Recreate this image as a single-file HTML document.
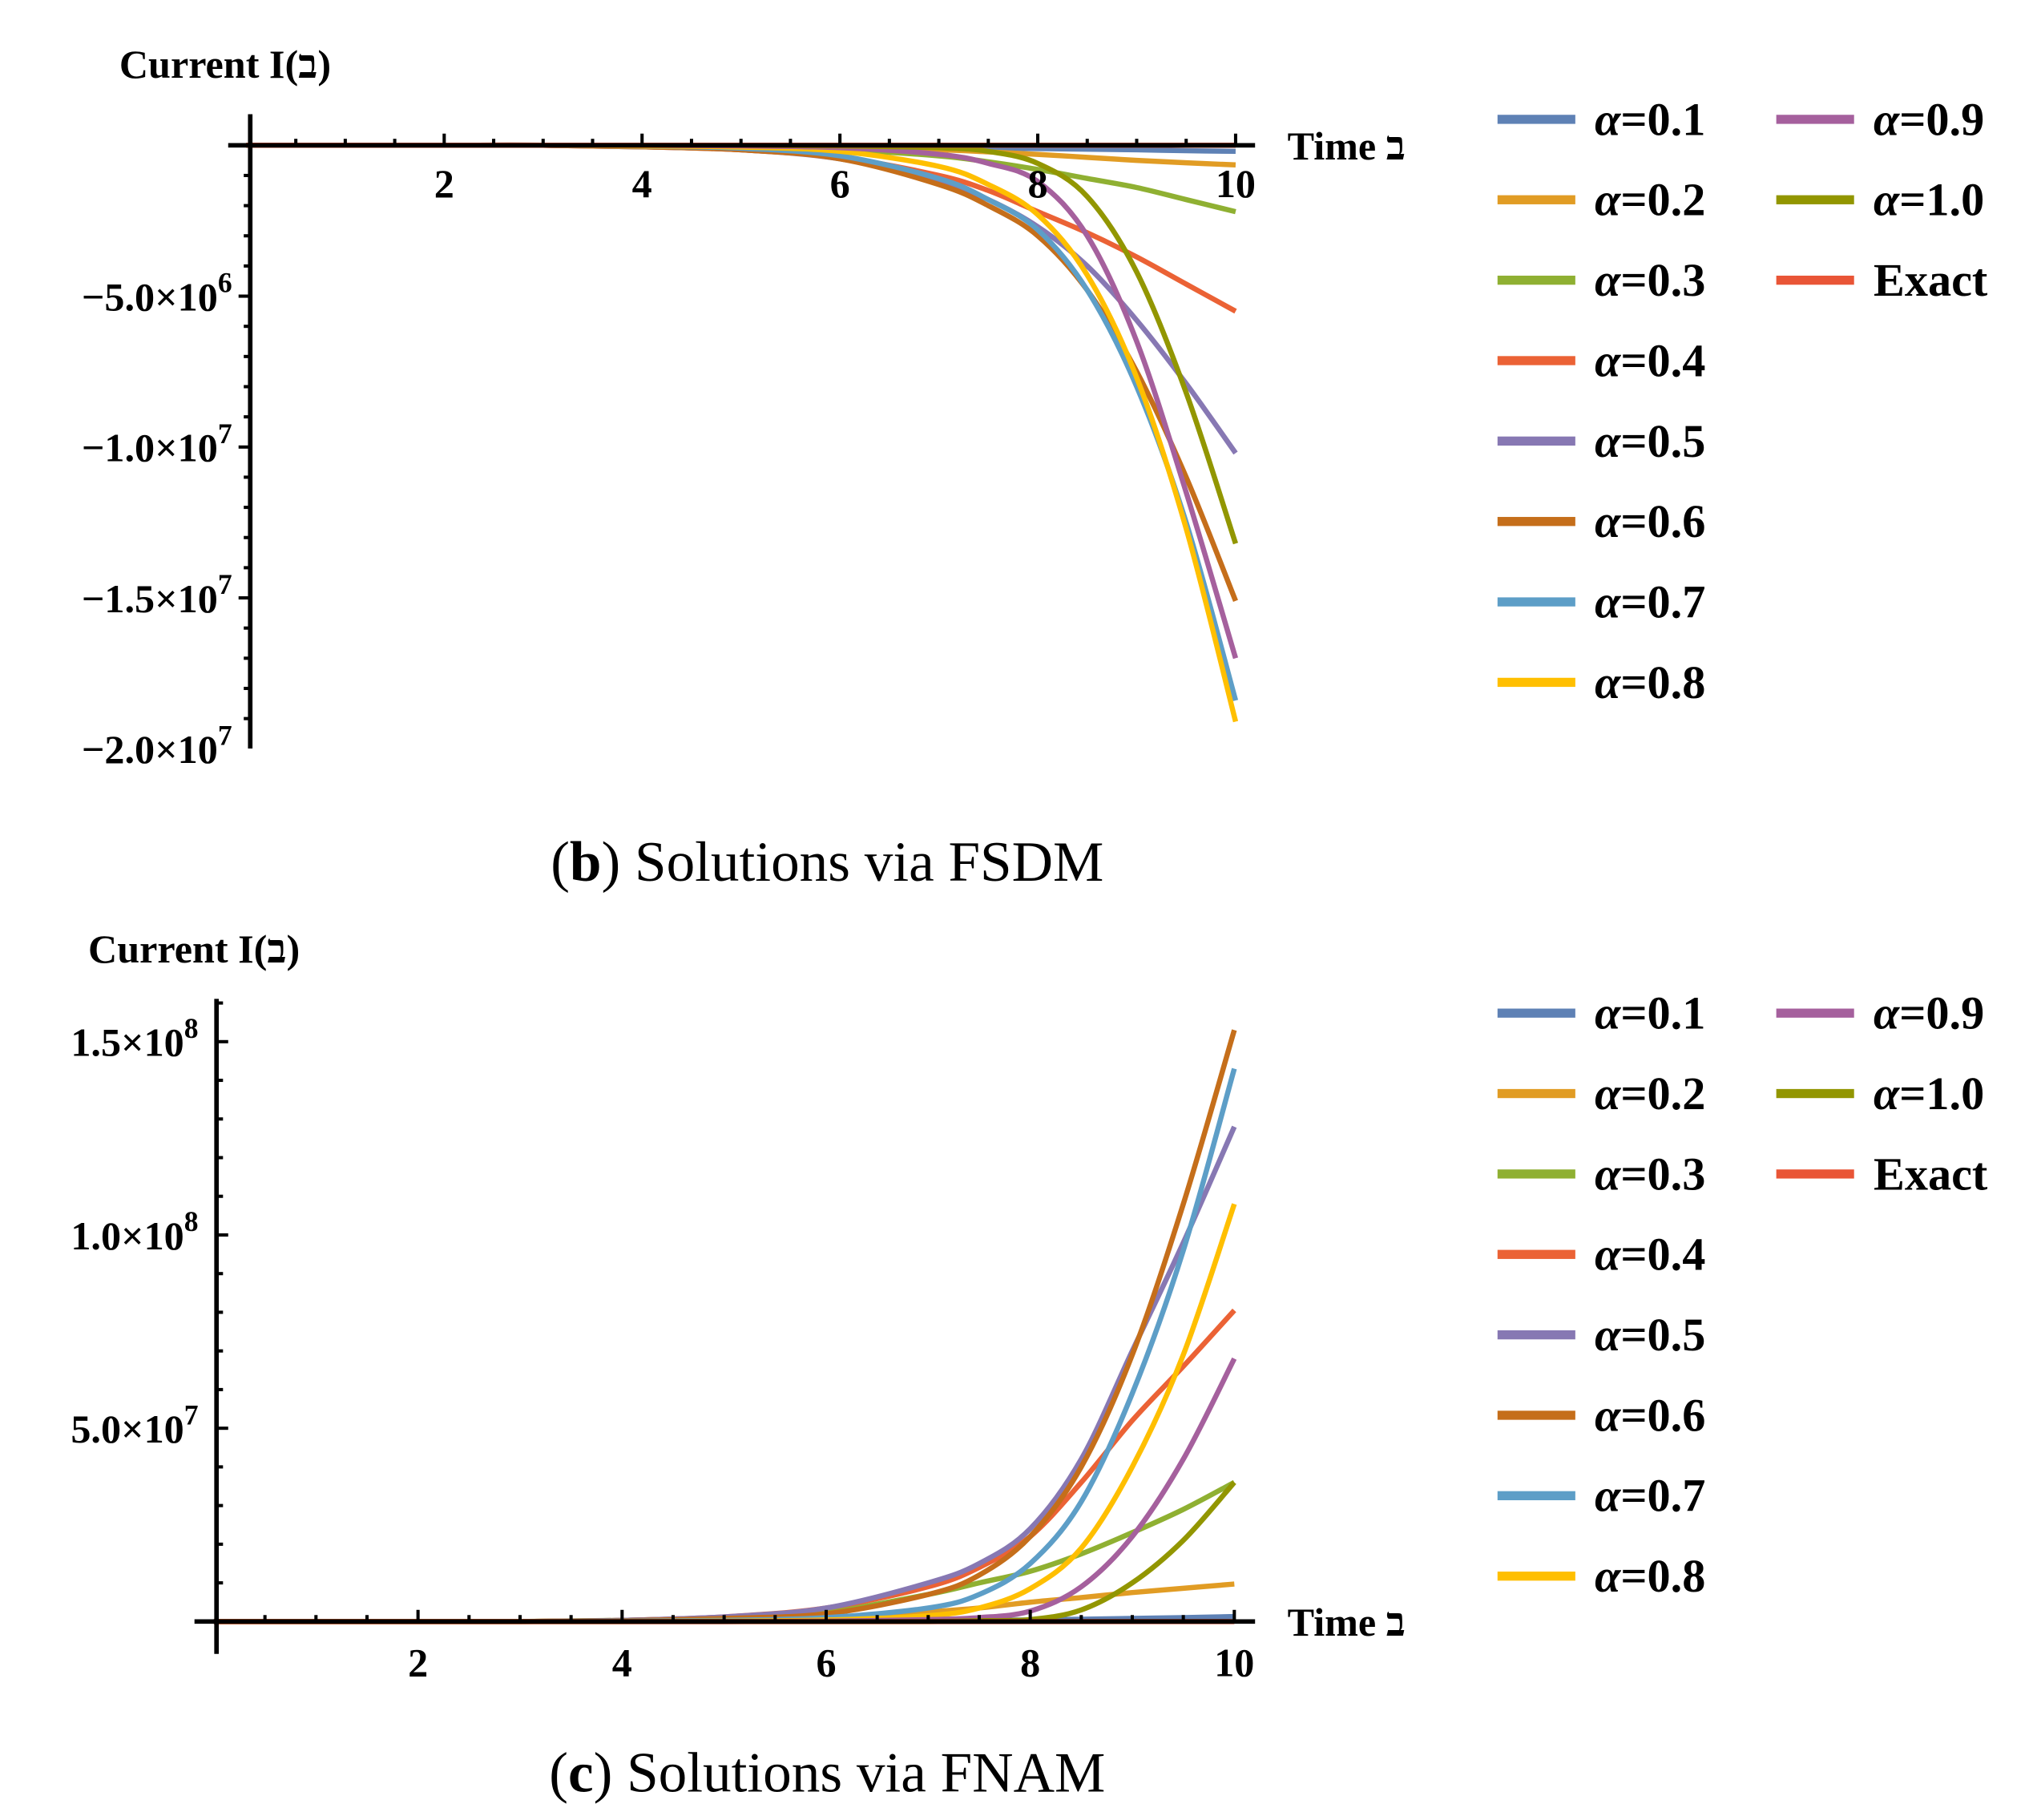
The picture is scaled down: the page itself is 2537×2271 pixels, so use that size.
<!DOCTYPE html>
<html><head><meta charset="utf-8"><style>
html,body{margin:0;padding:0;background:#fff}
svg{display:block}
.tk{font-family:"Liberation Serif",serif;font-weight:bold;font-size:31px;fill:#000}
.lg{font-family:"Liberation Serif",serif;font-weight:bold;font-size:36px;fill:#000}
.cap{font-family:"Liberation Serif",serif;font-size:44px;fill:#000}
</style></head><body>
<svg id="fig" width="2537" height="2271" viewBox="0 0 1568 1403" preserveAspectRatio="none" xmlns="http://www.w3.org/2000/svg">
<g id="top"></g>
<g id="bot"></g>
<text class="cap" x="638" y="679" text-anchor="middle">(<tspan font-weight="bold">b</tspan>) Solutions via FSDM</text>
<text class="cap" x="638" y="1381" text-anchor="middle">(<tspan font-weight="bold">c</tspan>) Solutions via FNAM</text>
</svg>
<script>
const times=[0,1,2,3,4,5,6,7,7.5,8,8.5,9,9.5,10];
const seriesNames=["α=0.1","α=0.2","α=0.3","α=0.4","α=0.5","α=0.6","α=0.7","α=0.8","α=0.9","α=1.0","Exact"];
const colors=["#5E81B5","#E19C24","#8FB032","#EB6235","#8778B3","#C56E1A","#5D9EC7","#FFBF00","#A5609D","#929600","#E95536"];
// top chart values, units of 1e6
const fsdm01=[0,0,0,0,0,-0.02,-0.04,-0.07,-0.09,-0.11,-0.13,-0.15,-0.18,-0.2];
const fsdm02=[0,0,0,0,-0.01,-0.03,-0.07,-0.15,-0.22,-0.3,-0.4,-0.5,-0.58,-0.65];
const fsdm03=[0,0,0,0,-0.02,-0.06,-0.15,-0.35,-0.55,-0.8,-1.1,-1.4,-1.8,-2.2];
const fsdm04=[0,0,0,0,-0.05,-0.15,-0.4,-1.0,-1.5,-2.2,-2.9,-3.7,-4.6,-5.5];
const fsdm05=[0,0,0,0,-0.05,-0.15,-0.45,-1.2,-1.8,-2.7,-4.0,-5.8,-7.9,-10.2];
const fsdm06=[0,0,0,0,-0.05,-0.15,-0.45,-1.3,-2.0,-3.0,-4.8,-7.5,-11,-15.1];
const fsdm07=[0,0,0,0,-0.03,-0.1,-0.35,-1.1,-1.8,-2.8,-4.8,-8.0,-12.5,-18.4];
const fsdm08=[0,0,0,0,-0.02,-0.06,-0.2,-0.7,-1.3,-2.3,-4.3,-7.7,-12.7,-19.1];
const fsdm09=[0,0,0,0,0,-0.02,-0.08,-0.3,-0.6,-1.2,-3.0,-6.5,-11.5,-17.0];
const fsdm10=[0,0,0,0,0,0,-0.02,-0.08,-0.2,-0.6,-1.7,-4.2,-8.2,-13.2];
const fsdmEx=[0,0,0,0,0,0,0,0,0,0,0,0,0,0];
// bottom chart values, units of 1e7
const fnam01=[0,0,0,0,0,0,0.01,0.02,0.03,0.04,0.06,0.08,0.1,0.13];
const fnam02=[0,0,0,0,0.02,0.04,0.1,0.25,0.35,0.5,0.62,0.75,0.86,0.97];
const fnam03=[0,0,0,0,0.03,0.1,0.25,0.7,1.0,1.3,1.75,2.3,2.9,3.6];
const fnam04=[0,0,0,0,0.03,0.12,0.35,0.9,1.4,2.2,3.6,5.2,6.6,8.05];
const fnam05=[0,0,0,0,0.03,0.12,0.35,1.0,1.5,2.4,4.2,7.0,9.8,12.8];
const fnam06=[0,0,0,0,0.02,0.08,0.2,0.7,1.2,2.2,4.0,6.9,10.8,15.3];
const fnam07=[0,0,0,0,0.01,0.03,0.1,0.35,0.7,1.5,3.1,5.9,9.6,14.3];
const fnam08=[0,0,0,0,0,0.01,0.04,0.15,0.35,0.85,1.9,4.0,6.9,10.8];
const fnam09=[0,0,0,0,0,0,0.01,0.05,0.1,0.27,0.9,2.2,4.2,6.8];
const fnam10=[0,0,0,0,0,0,0,0,0.02,0.05,0.3,1.0,2.1,3.6];
const fnamEx=[0,0,0,0,0,0,0,0,0,0,0,0,0,0];
const topYTicks=[-5,-10,-15,-20];
const topYLabels=["−5.0×10","−1.0×10","−1.5×10","−2.0×10"];
const topYExp=["6","7","7","7"];
const botYTicks=[5,10,15];
const botYLabels=["5.0×10","1.0×10","1.5×10"];
const botYExp=["7","8","8"];
const xTicks=[2,4,6,8,10];

const NS="http://www.w3.org/2000/svg";
function mk(p,tag,at){const e=document.createElementNS(NS,tag);for(const k in at)e.setAttribute(k,at[k]);p.appendChild(e);return e;}
function pathD(pts){let d="M"+pts[0][0]+","+pts[0][1];for(let i=0;i<pts.length-1;i++){const p0=pts[Math.max(0,i-1)],p1=pts[i],p2=pts[i+1],p3=pts[Math.min(pts.length-1,i+2)];
d+=" C"+(p1[0]+(p2[0]-p0[0])/6)+","+(p1[1]+(p2[1]-p0[1])/6)+" "+(p2[0]-(p3[0]-p1[0])/6)+","+(p2[1]-(p3[1]-p1[1])/6)+" "+p2[0]+","+p2[1];}return d;}

function chart(g,cfg){
  const X=t=>cfg.x0+t*cfg.xs, Y=v=>cfg.y0-v*cfg.ys;
  cfg.series.forEach((s,i)=>{
    const p=mk(g,"path",{d:pathD(times.map((t,j)=>[X(t),Y(s[j])])),fill:"none",stroke:colors[i],"stroke-width":4});
    
    
  });
  const xa=mk(g,"line",{x1:cfg.xaL,x2:cfg.xaR,y1:cfg.y0,y2:cfg.y0,stroke:"#000","stroke-width":3.5});
  
  
  const ya=mk(g,"line",{x1:cfg.yax,x2:cfg.yax,y1:cfg.yaT,y2:cfg.yaB,stroke:"#000","stroke-width":3.5});
  
  
  for(let t=0.5;t<=10.01;t+=0.5){const major=Math.abs(t%2)<0.01;mk(g,"line",{x1:X(t),x2:X(t),y1:cfg.y0,y2:cfg.y0-(major?9:5),stroke:"#000","stroke-width":2.5});}
  xTicks.forEach(t=>{const e=mk(g,"text",{x:X(t),y:cfg.y0+cfg.xlabOff,"text-anchor":"middle",class:"tk"});e.textContent=t;
    
    });
  for(let v=cfg.minorFrom;v<=cfg.minorTo;v+=cfg.minorStep){if(Math.abs(v)<1e-9)continue;const y=Y(v);if(y<cfg.yaT||y>cfg.yaB)continue;
    const major=Math.abs(v%cfg.majorStep)<1e-6;mk(g,"line",{x1:cfg.yax,x2:cfg.yax+cfg.tdir*(major?9:5),y1:y,y2:y,stroke:"#000","stroke-width":2.5});}
  cfg.yt.forEach((v,i)=>{const e=mk(g,"text",{x:cfg.yax-14,y:Y(v)+11,"text-anchor":"end",class:"tk"});
    
    
    const a=mk(e,"tspan",{});a.textContent=cfg.yl[i];
    const s=mk(e,"tspan",{dy:"-14","font-size":"22"});s.textContent=cfg.ye[i];});
  const xt=mk(g,"text",{x:993,y:cfg.y0+11,class:"tk","font-size":"33"});xt.textContent="Time ב";
  
  
  const yt=mk(g,"text",{x:cfg.ytx,y:cfg.yty,class:"tk","font-size":"31"});yt.textContent="Current I(ב)";
  
  
  seriesNames.forEach((n,i)=>{const col=i<8?0:1,row=i<8?i:i-8;const lx=col?1370:1155,ly=cfg.legY+row*62;
    const lg=mk(g,"g",{});
    
    
    mk(lg,"rect",{x:lx,y:ly-3.5,width:60,height:7,fill:colors[i]});
    const tx=mk(lg,"text",{x:lx+75,y:ly+12,class:"lg"});
    if(n==="Exact")tx.textContent=n;else{const a=mk(tx,"tspan",{"font-style":"italic"});a.textContent="α";const b=mk(tx,"tspan",{});b.textContent=n.slice(1);}
  });
}
chart(document.getElementById("top"),{x0:190,xs:76.3,y0:112,ys:116.3/5,xaL:176,xaR:968,yax:193,yaT:88,yaB:577,
  series:[fsdm01,fsdm02,fsdm03,fsdm04,fsdm05,fsdm06,fsdm07,fsdm08,fsdm09,fsdm10,fsdmEx],
  minorFrom:-20,minorTo:0,minorStep:1,majorStep:5,tdir:-1,yt:topYTicks,yl:topYLabels,ye:topYExp,xlabOff:40,ytx:92,yty:60,legY:92});
chart(document.getElementById("bot"),{x0:165,xs:78.7,y0:1250,ys:149/5,xaL:150,xaR:968,yax:167,yaT:770,yaB:1275,
  series:[fnam01,fnam02,fnam03,fnam04,fnam05,fnam06,fnam07,fnam08,fnam09,fnam10,fnamEx],
  minorFrom:0,minorTo:16,minorStep:1,majorStep:5,tdir:1,yt:botYTicks,yl:botYLabels,ye:botYExp,xlabOff:42,ytx:68,yty:742,legY:781});
</script>
</body></html>
